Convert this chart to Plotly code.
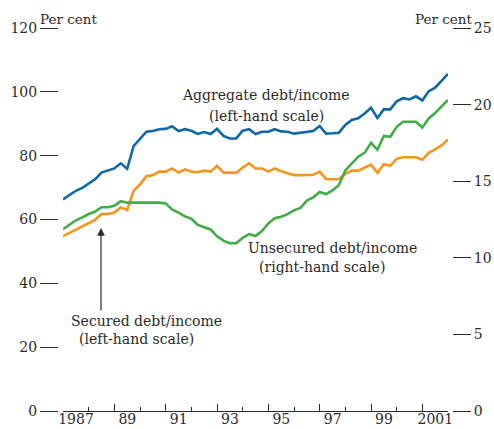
import plotly.graph_objects as go

# Quarterly observations, 1987Q1 onward
quarters = [1987 + i / 4 for i in range(61)]

aggregate = [66.3, 67.8, 69.0, 69.9, 71.2, 72.6, 74.7, 75.3, 76.0, 77.6,
             75.9, 83.0, 85.3, 87.5, 87.7, 88.3, 88.4, 89.2, 87.7, 88.3,
             87.8, 86.8, 87.4, 86.8, 88.4, 86.2, 85.4, 85.4, 87.8, 88.3,
             86.8, 87.5, 87.5, 88.3, 87.6, 87.5, 86.9, 87.2, 87.5, 87.7,
             89.3, 86.9, 87.0, 87.2, 89.6, 91.2, 91.7, 93.2, 95.0, 91.8,
             94.5, 94.5, 97.0, 98.0, 97.6, 98.6, 97.3, 100.2, 101.3, 103.3,
             105.6]

secured = [54.8, 55.8, 56.9, 57.7, 58.9, 59.9, 61.7, 61.7, 62.2, 63.8,
           63.0, 69.0, 71.0, 73.6, 73.9, 75.0, 75.0, 76.0, 74.7, 75.7,
           75.0, 74.8, 75.3, 75.0, 76.8, 74.7, 74.7, 74.6, 76.3, 77.6,
           76.0, 76.0, 75.0, 76.0, 75.1, 74.6, 73.9, 73.9, 73.9, 74.0,
           75.0, 72.7, 72.6, 72.7, 74.3, 75.3, 75.3, 76.3, 77.2, 74.6,
           77.3, 76.8, 79.0, 79.5, 79.5, 79.5, 78.7, 80.9, 82.0, 83.2,
           85.1]

unsecured = [11.86, 12.14, 12.45, 12.64, 12.86, 13.01, 13.30, 13.30, 13.40, 13.70,
             13.60, 13.60, 13.60, 13.60, 13.60, 13.60, 13.55, 13.15, 12.95, 12.70,
             12.55, 12.15, 12.00, 11.85, 11.40, 11.12, 10.95, 10.95, 11.30, 11.55,
             11.42, 11.75, 12.25, 12.58, 12.68, 12.85, 13.10, 13.25, 13.73, 13.95,
             14.30, 14.16, 14.40, 14.75, 15.70, 16.17, 16.60, 16.85, 17.50, 17.05,
             17.95, 17.90, 18.55, 18.88, 18.88, 18.88, 18.50, 19.10, 19.45, 19.85,
             20.30]

x_tick_vals = [1987, 1989, 1991, 1993, 1995, 1997, 1999, 2001]
x_tick_text = ["1987", "89", "91", "93", "95", "97", "99", "2001"]
left_ticks = [0, 20, 40, 60, 80, 100, 120]
right_ticks = [0, 5, 10, 15, 20, 25]

BLUE = "#0f69a8"
ORANGE = "#f7941e"
GREEN = "#41ad49"
INK = "#2b2b2b"
FONT = "DejaVu Serif"

W, H = 494, 429
ML, MR, MT, MB = 40, 20, 28, 18
PW = W - ML - MR
PH = H - MT - MB


def px(x):
    return (x - ML) / PW


def py(y):
    return (H - MB - y) / PH


fig = go.Figure()
fig.add_trace(go.Scatter(x=quarters, y=aggregate, mode="lines",
                         line=dict(color=BLUE, width=2.6), yaxis="y", hoverinfo="skip"))
fig.add_trace(go.Scatter(x=quarters, y=secured, mode="lines",
                         line=dict(color=ORANGE, width=2.6), yaxis="y", hoverinfo="skip"))
fig.add_trace(go.Scatter(x=quarters, y=unsecured, mode="lines",
                         line=dict(color=GREEN, width=2.6), yaxis="y2", hoverinfo="skip"))

annotations = []


def label(text, cx, cy, size=14):
    annotations.append(dict(text=text, x=px(cx), y=py(cy), xref="paper", yref="paper",
                            xanchor="center", yanchor="middle", showarrow=False,
                            font=dict(family=FONT, size=size, color=INK)))


label("Per cent", 68, 19, 13.5)
label("Per cent", 443, 19, 13.5)
label("Aggregate debt/income", 266, 95)
label("(left-hand scale)", 266, 116)
label("Unsecured debt/income", 332, 248)
label("(right-hand scale)", 322, 267)
label("Secured debt/income", 146, 321)
label("(left-hand scale)", 136, 339)

annotations.append(dict(text="", x=px(101), y=py(228), xref="paper", yref="paper",
                        showarrow=True, ax=0, ay=84, axref="pixel", ayref="pixel",
                        arrowhead=2, arrowsize=1.3, arrowwidth=1.2, arrowcolor=INK))

fig.update_layout(
    width=W, height=H,
    margin=dict(l=ML, r=MR, t=MT, b=MB, autoexpand=False),
    paper_bgcolor="white", plot_bgcolor="white",
    showlegend=False,
    font=dict(family=FONT, size=14, color=INK),
    xaxis=dict(
        domain=[px(63), px(448)], range=[1987, 2002], anchor="y",
        showgrid=False, zeroline=False, showline=True, linecolor=INK, linewidth=1.2,
        tickvals=x_tick_vals, ticktext=x_tick_text, ticks="inside", ticklen=7,
        tickwidth=1.2, tickcolor=INK, ticklabelshift=13, ticklabelstandoff=-5,
        tickfont=dict(family=FONT, size=14, color=INK),
        minor=dict(tick0=1987, dtick=1, ticks="inside", ticklen=4, tickwidth=1.2,
                   tickcolor=INK, showgrid=False),
        automargin=False,
    ),
    yaxis=dict(
        domain=[0, 1], range=[0, 120], anchor="free", position=px(58), side="left",
        showgrid=False, zeroline=False, showline=False,
        tickvals=left_ticks, ticks="outside", ticklen=18, tickwidth=1.2, tickcolor=INK,
        tickfont=dict(family=FONT, size=14, color=INK), automargin=False,
    ),
    yaxis2=dict(
        domain=[0, 1], range=[0, 25], overlaying="y", anchor="free", position=px(452),
        side="right", showgrid=False, zeroline=False, showline=False,
        tickvals=right_ticks, ticks="outside", ticklen=18, tickwidth=1.2, tickcolor=INK,
        tickfont=dict(family=FONT, size=14, color=INK), automargin=False,
    ),
    annotations=annotations,
)

fig.write_html("out.html", config={"displayModeBar": False},
               post_script="document.body.style.margin='0';document.body.style.padding='0';")
